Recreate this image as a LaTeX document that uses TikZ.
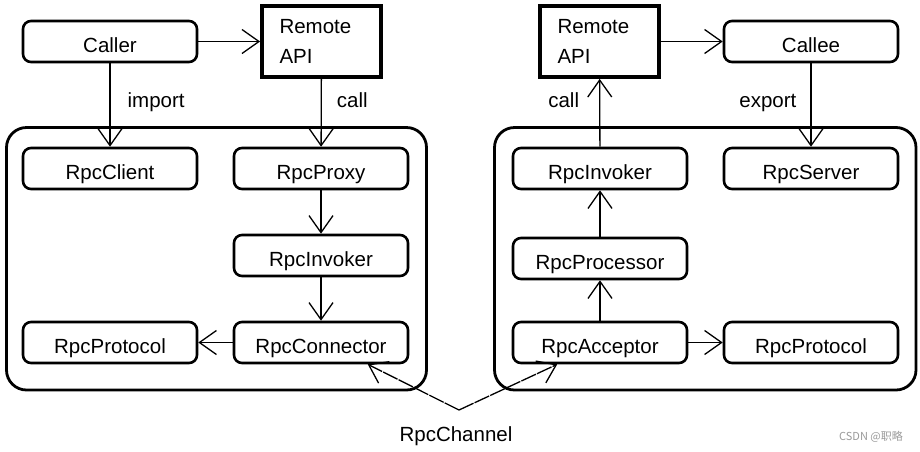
\documentclass[tikz,border=0pt]{standalone}
\usepackage{fontspec}
\setmainfont{Liberation Sans}
\newfontfamily\cjkfont{Noto Sans CJK SC}
\usetikzlibrary{arrows.meta}

\begin{document}
\begin{tikzpicture}[x=1pt, y=-1pt,
    box/.style={draw, line width=2.6pt, rounded corners=8pt, minimum width=174pt, minimum height=41pt, inner sep=0pt, text height=22pt, text depth=0pt, font=\fontsize{20.5}{24}\selectfont},
    api/.style={draw, line width=3.8pt, minimum width=119pt, minimum height=71pt, inner sep=0pt, text width=84pt, align=left, font=\fontsize{20.5}{30}\selectfont},
    panel/.style={line width=2.8pt, rounded corners=20pt},
    arr/.style={line width=1.3pt, -{Straight Barb[length=17pt,width=24pt]}},
    chan/.style={arr, dash pattern=on 16pt off 1.2pt},
    lbl/.style={inner sep=0pt, font=\fontsize{20.5}{24}\selectfont}]
			\useasboundingbox (0,0) rectangle (920,451);
			\draw[panel] (6.5,127.5) rectangle (426.5,390);
			\draw[panel] (494.5,127.5) rectangle (916,390);
			\node[box] (caller) at (110,41.5) {Caller};
			\node[api] (lapi) at (321.5,41.5) {Remote\\API};
			\node[api] (rapi) at (599.5,41.5) {Remote\\API};
			\node[box] (callee) at (811,41.5) {Callee};
			\node[box] (lclient) at (110,168.5) {RpcClient};
			\node[box] (lproxy) at (321,168.5) {RpcProxy};
			\node[box] (linv) at (321,255.5) {RpcInvoker};
			\node[box] (lconn) at (321,342.5) {RpcConnector};
			\node[box] (lproto) at (110,342.5) {RpcProtocol};
			\node[box] (rinv) at (600,168.5) {RpcInvoker};
			\node[box] (rserver) at (811,168.5) {RpcServer};
			\node[box] (rproc) at (600,258.5) {RpcProcessor};
			\node[box] (racc) at (600,342.5) {RpcAcceptor};
			\node[box] (rproto) at (811,342.5) {RpcProtocol};
			\draw[arr] (caller) -- (lapi);
			\draw[arr] (caller) -- node[lbl, anchor=west, xshift=17pt, pos=0.47] (limport) {import} (lclient);
			\draw[arr] (lapi) -- node[lbl, anchor=west, xshift=15pt, pos=0.32] (lcall) {call} (lproxy);
			\draw[arr] (lproxy) -- (linv);
			\draw[arr] (linv) -- (lconn);
			\draw[arr] (lconn) -- (lproto);
			\draw[arr] (rapi) -- (callee);
			\draw[arr] (rinv) -- node[lbl, anchor=east, xshift=-20pt, pos=0.68] (rcall) {call} (rapi);
			\draw[arr] (callee) -- node[lbl, anchor=east, xshift=-14pt, pos=0.47] (rexport) {export} (rserver);
			\draw[arr] (rproc) -- (rinv);
			\draw[arr] (racc) -- (rproc);
			\draw[arr] (racc) -- (rproto);
			\coordinate (apex) at (459,410);
			\draw[chan] (apex) -- (lconn.-25);
			\draw[chan] (apex) -- (racc.-153);
			\node[lbl] (channel) at (456,436) {RpcChannel};
			\node[inner sep=0pt, text=gray!80, font=\cjkfont\fontsize{11}{13}\selectfont] (mark) at (871,437) {CSDN @职略};
		\end{tikzpicture}
\end{document}
